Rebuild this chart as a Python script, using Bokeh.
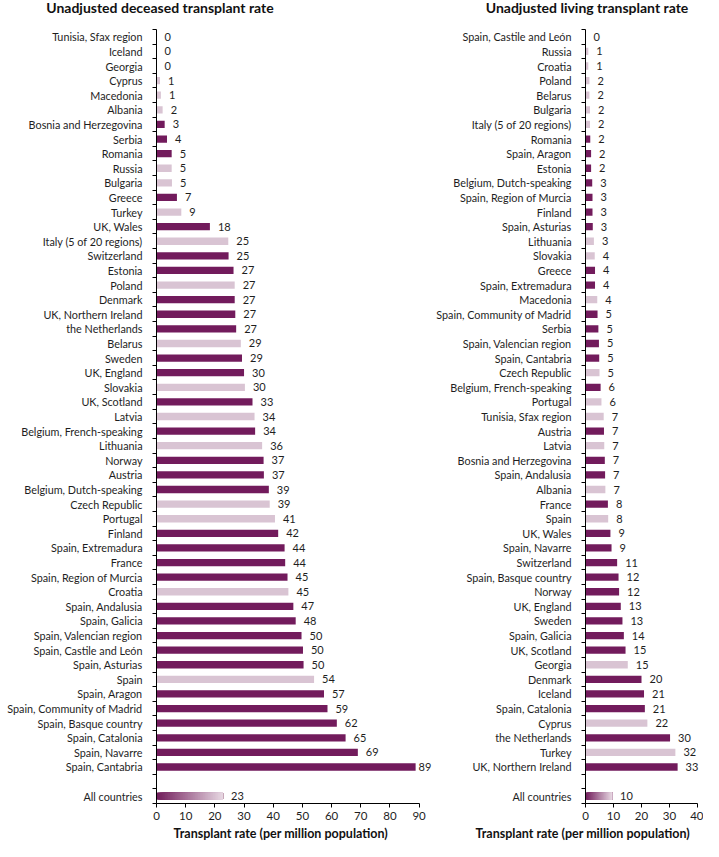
from bokeh.plotting import figure
from bokeh.models import Range1d, FixedTicker, Title, ColumnDataSource
from bokeh.layouts import row, column
from bokeh.embed import file_html
from bokeh.resources import INLINE
from bokeh.core.properties import value

# ---------------- data ----------------
dec_countries = [
    "Tunisia, Sfax region", "Iceland", "Georgia", "Cyprus", "Macedonia", "Albania",
    "Bosnia and Herzegovina", "Serbia", "Romania", "Russia", "Bulgaria", "Greece",
    "Turkey", "UK, Wales", "Italy (5 of 20 regions)", "Switzerland", "Estonia",
    "Poland", "Denmark", "UK, Northern Ireland", "the Netherlands", "Belarus",
    "Sweden", "UK, England", "Slovakia", "UK, Scotland", "Latvia",
    "Belgium, French-speaking", "Lithuania", "Norway", "Austria",
    "Belgium, Dutch-speaking", "Czech Republic", "Portugal", "Finland",
    "Spain, Extremadura", "France", "Spain, Region of Murcia", "Croatia",
    "Spain, Andalusia", "Spain, Galicia", "Spain, Valencian region",
    "Spain, Castile and León", "Spain, Asturias", "Spain", "Spain, Aragon",
    "Spain, Community of Madrid", "Spain, Basque country", "Spain, Catalonia",
    "Spain, Navarre", "Spain, Cantabria",
]
dec_values = [
    0, 0, 0, 1.2, 1.5, 2.1, 2.8, 3.6, 5.2, 5.2, 5.3, 7.0,
    8.5, 18.3, 24.6, 24.7, 26.4, 26.8, 26.8, 27.0, 27.3, 28.9,
    29.3, 30.0, 30.3, 32.9, 33.6, 33.8, 36.2, 36.7, 36.8,
    38.5, 38.8, 40.6, 41.7, 43.9, 44.1, 44.9, 45.2,
    46.9, 47.7, 49.7, 50.2, 50.4, 54.0, 57.4,
    58.6, 61.8, 64.8, 69.0, 88.8,
]
dec_labels = [
    0, 0, 0, 1, 1, 2, 3, 4, 5, 5, 5, 7,
    9, 18, 25, 25, 27, 27, 27, 27, 27, 29,
    29, 30, 30, 33, 34, 34, 36, 37, 37,
    39, 39, 41, 42, 44, 44, 45, 45,
    47, 48, 50, 50, 50, 54, 57,
    59, 62, 65, 69, 89,
]
dec_all_value = 22.8
dec_all_label = 23

liv_countries = [
    "Spain, Castile and León", "Russia", "Croatia", "Poland", "Belarus", "Bulgaria",
    "Italy (5 of 20 regions)", "Romania", "Spain, Aragon", "Estonia",
    "Belgium, Dutch-speaking", "Spain, Region of Murcia", "Finland",
    "Spain, Asturias", "Lithuania", "Slovakia", "Greece", "Spain, Extremadura",
    "Macedonia", "Spain, Community of Madrid", "Serbia", "Spain, Valencian region",
    "Spain, Cantabria", "Czech Republic", "Belgium, French-speaking", "Portugal",
    "Tunisia, Sfax region", "Austria", "Latvia", "Bosnia and Herzegovina",
    "Spain, Andalusia", "Albania", "France", "Spain", "UK, Wales", "Spain, Navarre",
    "Switzerland", "Spain, Basque country", "Norway", "UK, England", "Sweden",
    "Spain, Galicia", "UK, Scotland", "Georgia", "Denmark", "Iceland",
    "Spain, Catalonia", "Cyprus", "the Netherlands", "Turkey", "UK, Northern Ireland",
]
liv_values = [
    0, 1.0, 1.0, 1.4, 1.4, 1.6, 1.6, 1.7, 2.0, 2.0,
    2.4, 2.5, 2.5, 2.6, 3.0, 3.3, 3.4, 3.4,
    4.2, 4.3, 4.6, 4.8, 4.9, 5.0, 5.4, 5.7,
    6.5, 6.6, 6.7, 6.9, 7.0, 7.1, 8.0, 8.1, 8.9, 9.3,
    11.3, 11.8, 12.0, 12.6, 13.2, 13.7, 14.3, 15.1, 20.0, 20.9,
    21.2, 22.1, 30.2, 32.1, 32.9,
]
liv_labels = [
    0, 1, 1, 2, 2, 2, 2, 2, 2, 2,
    3, 3, 3, 3, 3, 4, 4, 4,
    4, 5, 5, 5, 5, 5, 6, 6,
    7, 7, 7, 7, 7, 7, 8, 8, 9, 9,
    11, 12, 12, 13, 13, 14, 15, 15, 20, 21,
    21, 22, 30, 32, 33,
]
liv_all_value = 9.5
liv_all_label = 10

light_group = {
    "Tunisia, Sfax region", "Georgia", "Cyprus", "Macedonia", "Albania", "Russia",
    "Bulgaria", "Turkey", "Italy (5 of 20 regions)", "Poland", "Belarus", "Slovakia",
    "Latvia", "Lithuania", "Czech Republic", "Portugal", "Croatia", "Spain",
}

dec_ticks = [0, 10, 20, 30, 40, 50, 60, 70, 80, 90]
liv_ticks = [0, 10, 20, 30, 40]

panel_titles = ["Unadjusted deceased transplant rate",
                "Unadjusted living transplant rate"]

# ---------------- styling ----------------
DARK = "#721b5c"
LIGHT = "#d9c4d3"
FONT = "Lato"
TXT = "#1e1e1e"
LABEL_SIZE = "10.8px"
TOTAL_W = 703
HEAD_H = 20


def lerp_color(c0, c1, t):
    r = [round(a + (b - a) * t) for a, b in zip(c0, c1)]
    return "#%02x%02x%02x" % tuple(r)


def make_panel(countries, values, labels, all_value, all_label, ticks,
               width, border_left, px_per_unit, axis_title_offset):
    n = len(countries)
    all_pos = n + 1
    height = 841 - HEAD_H
    top = 9
    bottom = 36
    frame_w = width - border_left
    p = figure(width=width, height=height, output_backend="svg",
               toolbar_location=None, tools="",
               x_range=Range1d(0, frame_w / px_per_unit),
               y_range=Range1d(n + 1.5, -0.5),
               min_border_left=border_left, min_border_right=0,
               min_border_top=top, min_border_bottom=bottom)
    p.outline_line_color = None
    p.xgrid.visible = False
    p.ygrid.visible = False
    p.background_fill_color = None
    p.border_fill_color = "white"

    ys = list(range(n))
    colors = [LIGHT if c in light_group else DARK for c in countries]
    offsets = [8 if v * px_per_unit + 24 < frame_w else 3 for v in values]
    src = ColumnDataSource(dict(y=ys, v=values, c=colors, o=offsets,
                                t=[str(l) for l in labels]))
    p.hbar(y="y", left=0, right="v", height=0.5, fill_color="c",
           line_color=None, source=src)
    p.text(x="v", y="y", text="t", source=src, x_offset="o",
           text_baseline="middle", text_align="left",
           text_font=value(FONT), text_font_size="11px", text_color=TXT)

    # gradient "All countries" bar: overlapping segments, each to the bar end
    segs = 40
    c0 = (114, 30, 92)
    c1 = (230, 214, 225)
    lefts = [all_value * k / segs for k in range(segs)]
    gcols = [lerp_color(c0, c1, k / (segs - 1)) for k in range(segs)]
    p.hbar(y=[all_pos] * segs, left=lefts, right=[all_value] * segs,
           height=0.5, fill_color=gcols, line_color=None)
    p.text(x=[all_value], y=[all_pos], text=[str(all_label)], x_offset=8,
           text_baseline="middle", text_align="left",
           text_font=value(FONT), text_font_size="11px", text_color=TXT)

    # y axis
    yax = p.yaxis[0]
    centers = ys + [all_pos]
    yax.ticker = FixedTicker(ticks=centers,
                             minor_ticks=[k - 0.5 for k in range(n + 3)])
    overrides = {i: countries[i] for i in ys}
    overrides[all_pos] = "All countries"
    yax.major_label_overrides = overrides
    yax.major_tick_line_color = None
    yax.major_tick_out = 0
    yax.major_tick_in = 0
    yax.minor_tick_out = 4
    yax.minor_tick_in = 0
    yax.minor_tick_line_color = "black"
    yax.minor_tick_line_width = 1
    yax.axis_line_color = "black"
    yax.axis_line_width = 1
    yax.major_label_standoff = 10
    yax.major_label_text_font = FONT
    yax.major_label_text_font_size = LABEL_SIZE
    yax.major_label_text_color = TXT

    # x axis
    xax = p.xaxis[0]
    xax.ticker = FixedTicker(ticks=ticks)
    xax.bounds = (ticks[0], ticks[-1])
    xax.major_tick_out = 4
    xax.major_tick_in = 0
    xax.minor_tick_line_color = None
    xax.axis_line_color = "black"
    xax.major_tick_line_color = "black"
    xax.major_label_standoff = 4
    xax.major_label_text_font = FONT
    xax.major_label_text_font_size = "11.5px"
    xax.major_label_text_color = TXT

    p.add_layout(Title(text="Transplant rate (per million population)",
                       align="left", offset=axis_title_offset,
                       text_font=FONT, text_font_size="12.5px",
                       text_font_style="bold", text_color="#111111",
                       standoff=2), "below")
    return p


# heading strip holding both panel titles (pixel-unit ranges)
head = figure(width=TOTAL_W, height=HEAD_H, output_backend="svg",
              toolbar_location=None, tools="",
              x_range=Range1d(0, TOTAL_W), y_range=Range1d(0, HEAD_H),
              x_axis_location=None, y_axis_location=None, min_border=0)
head.outline_line_color = None
head.xgrid.visible = False
head.ygrid.visible = False
head.text(x=[159.5, 586.5], y=[HEAD_H - 7.0] * 2, text=panel_titles,
          text_align="center", text_baseline="middle",
          text_font=value(FONT), text_font_size="14px",
          text_font_style="bold", text_color="#111111")

left = make_panel(dec_countries, dec_values, dec_labels, dec_all_value,
                  dec_all_label, dec_ticks, width=433, border_left=156,
                  px_per_unit=2.918, axis_title_offset=17)
right = make_panel(liv_countries, liv_values, liv_labels, liv_all_value,
                   liv_all_label, liv_ticks, width=TOTAL_W - 433,
                   border_left=152, px_per_unit=2.8, axis_title_offset=-110)

layout = column(head, row(left, right))
open("out.html", "w").write(file_html(layout, INLINE))
